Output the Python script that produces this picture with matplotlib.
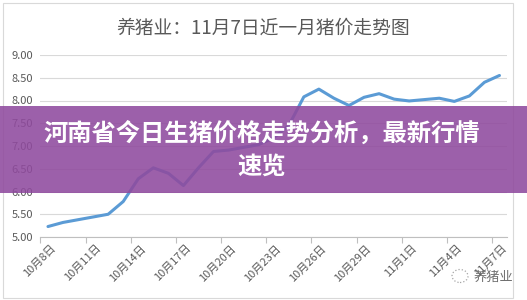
import matplotlib
matplotlib.use("Agg")
import matplotlib.pyplot as plt
from matplotlib.patches import Rectangle, Ellipse

plt.rcParams['font.family'] = ['Noto Sans CJK SC', 'DejaVu Sans']

# daily pig price, 10/8 .. 11/7
dates = ['10月8日', '10月9日', '10月10日', '10月11日', '10月12日', '10月13日', '10月14日',
         '10月15日', '10月16日', '10月17日', '10月18日', '10月19日', '10月20日', '10月21日',
         '10月22日', '10月23日', '10月24日', '10月25日', '10月26日', '10月27日', '10月28日',
         '10月29日', '10月30日', '10月31日', '11月1日', '11月2日', '11月3日', '11月4日',
         '11月5日', '11月6日', '11月7日']
prices = [5.23, 5.32, 5.38, 5.44, 5.50, 5.78, 6.28, 6.52, 6.40, 6.13, 6.52, 6.88, 6.91, 6.97,
          7.03, 7.18, 7.45, 8.08, 8.25, 8.05, 7.89, 8.07, 8.15, 8.03, 7.99, 8.02, 8.05, 7.98,
          8.10, 8.40, 8.55]
yticks = [5.0, 5.5, 6.0, 6.5, 7.0, 7.5, 8.0, 8.5, 9.0]

title = '养猪业：11月7日近一月猪价走势图'
banner = '河南省今日生猪价格走势分析，最新行情\n速览'

W, H = 527, 300
fig = plt.figure(figsize=(W / 100, H / 100), dpi=100)
fig.patch.set_facecolor('white')

# chart frame
fig.patches.append(Rectangle((3 / W, 2 / H), 510 / W, 295 / H, transform=fig.transFigure,
                             fill=False, edgecolor='#d9d9d9', linewidth=0.8))

ax = fig.add_axes([40 / W, 1 - 237 / H, 467 / W, 182 / H])
x = list(range(len(prices)))
ax.plot(x, prices, color='#5B9BD5', linewidth=2.2, solid_capstyle='round', zorder=3)

ax.set_xlim(-0.53, 30.5)
ax.set_ylim(5.0, 9.0)
ax.set_yticks(yticks)
ax.set_yticklabels([f'{v:.2f}' for v in yticks], color='#595959', fontsize=8)
ax.grid(axis='y', color='#d9d9d9', linewidth=0.8)
ax.set_axisbelow(True)
for s in ['top', 'right', 'left']:
    ax.spines[s].set_visible(False)
ax.spines['bottom'].set_color('#bfbfbf')
ax.tick_params(axis='y', length=0, pad=5)

# tick marks between categories, labels on every third date
ax.set_xticks([i - 0.5 for i in range(0, 31, 3)])
ax.set_xticklabels([])
ax.tick_params(axis='x', length=4, color='#bfbfbf')
for i in range(0, 31, 3):
    ax.text(i + 0.15, 4.87, dates[i], rotation=45, ha='right', va='top',
            rotation_mode='anchor', fontsize=8, color='#595959')

fig.text(0.5, 1 - 28 / H, title, ha='center', va='center', fontsize=13.5, color='#595959')

# purple overlay banner
fig.patches.append(Rectangle((0, 1 - 193 / H), 1, 87 / H, transform=fig.transFigure,
                             facecolor='#8f4a9e', alpha=0.88, edgecolor='none', zorder=5))
fig.text(0.497, 1 - 150 / H, banner, ha='center', va='center', fontsize=17.5,
         fontweight='bold', color='white', linespacing=1.45, zorder=6)

# watermark
fig.text(493 / W, 1 - 277 / H, '养猪业', ha='center', va='center', fontsize=9.5,
         color='#6f6f6f', zorder=6)
fig.patches.append(Ellipse((460 / W, 1 - 276 / H), 16 / W, 13 / H, transform=fig.transFigure,
                           fill=False, edgecolor='#a6a6a6', linestyle=':', linewidth=0.9))

fig.savefig('out.png', dpi=100)
